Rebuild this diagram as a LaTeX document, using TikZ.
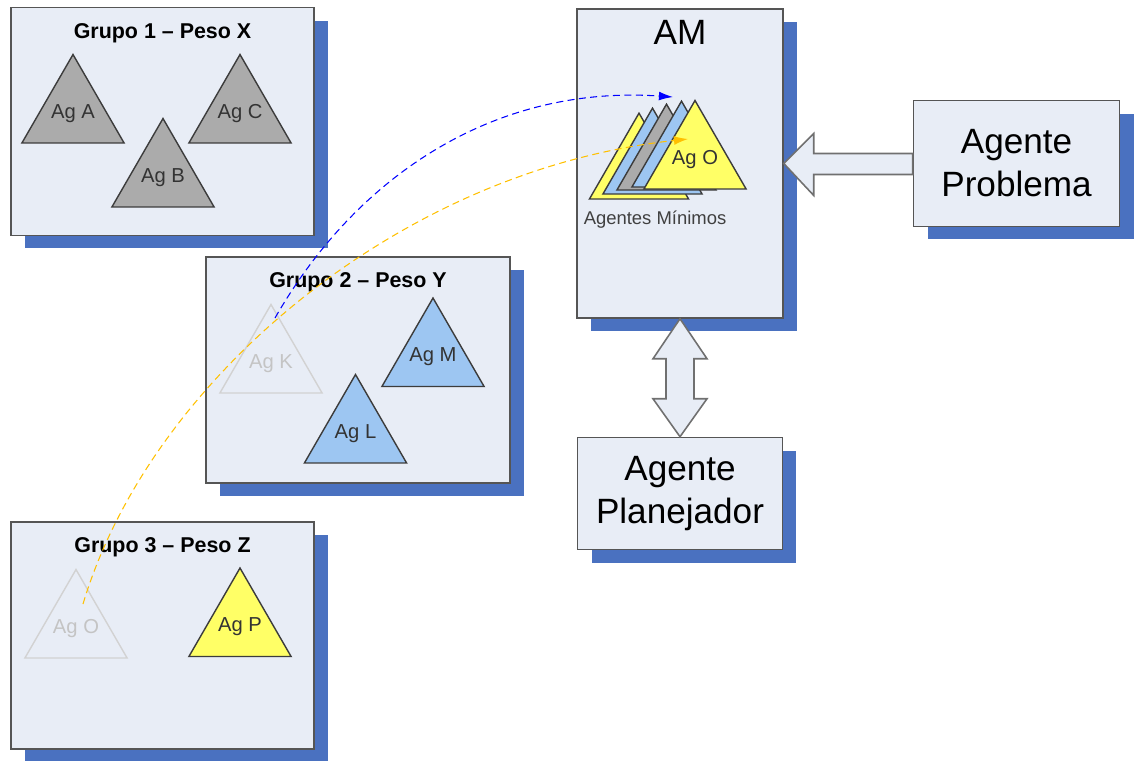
\documentclass[tikz,border=0pt]{standalone}
\usepackage{fontspec}
\setmainfont{Liberation Sans}
\usetikzlibrary{arrows.meta, positioning, shapes.geometric, shadows}
\definecolor{boxfill}{HTML}{E8EDF6}
\definecolor{boxline}{HTML}{555555}
\definecolor{shadowblue}{HTML}{4A71C0}
\definecolor{aggray}{HTML}{ABABAB}
\definecolor{agblue}{HTML}{9DC6F2}
\definecolor{agyellow}{HTML}{FFFF66}
\definecolor{agline}{HTML}{3C3C3C}
\definecolor{ghostline}{HTML}{D2D2D2}
\definecolor{ghosttext}{HTML}{C4C4C4}
\definecolor{linkyellow}{HTML}{FFC000}
\definecolor{arrowline}{HTML}{707070}

\begin{document}
\begin{tikzpicture}[x=0.02cm, y=-0.02cm, >={Latex[length=8pt, width=5pt]},
  box/.style={draw=boxline, line width=0.9pt, fill=boxfill, align=center, inner sep=0pt,
    drop shadow={shadow xshift=0.28cm, shadow yshift=-0.26cm, fill=shadowblue, opacity=1}},
  grp/.style={box, minimum width=6.06cm, minimum height=4.56cm},
  bigtxt/.style={font=\fontsize{20}{24.5}\selectfont},
  grptitle/.style={font=\fontsize{12.2}{14}\selectfont\bfseries},
  agtext/.style={font=\fontsize{11.5}{14}\selectfont, text=black!80},
  agshape/.style={regular polygon, regular polygon sides=3, line width=0.8pt,
    minimum size=2.36cm, inner sep=0pt},
  agent/.style={agshape, draw=agline, label={[agtext]center:#1}},
  ghost/.style={agshape, draw=ghostline, label={[agtext, text=ghosttext]center:#1}},
  blockarrow/.style={draw=arrowline, line width=0.9pt, fill=boxfill, line join=miter},
  link/.style={->, dash pattern=on 4pt off 2.5pt, line width=0.6pt}]
\useasboundingbox (0,0) rectangle (1138,760);

\node[grp] (g1) at (162.5,121.5) {};
\node[grptitle] (t1) at ([yshift=-0.53cm]g1.north) {Grupo 1 – Peso X};
\node[grp, minimum width=6.08cm, minimum height=4.52cm] (g2) at (358,370) {};
\node[grptitle] (t2) at ([yshift=-0.52cm]g2.north) {Grupo 2 – Peso Y};
\node[grp, minimum height=4.54cm] (g3) at (162.5,635.5) {};
\node[grptitle] (t3) at ([yshift=-0.52cm]g3.north) {Grupo 3 – Peso Z};

\node[box, minimum width=4.12cm, minimum height=6.18cm] (am) at (680,163.5) {};
\node[bigtxt] (amt) at ([yshift=-0.48cm]am.north) {AM};
\node[box, bigtxt, minimum width=4.12cm, minimum height=2.52cm, right=2.58cm of am] (prob) {Agente\\Problema};
\node[box, bigtxt, minimum width=4.1cm, minimum height=2.24cm, below=2.36cm of am] (plan) {Agente\\Planejador};

\node[agent={Ag A}, fill=aggray] (agA) at (73,113.5) {};
\node[agent={Ag B}, fill=aggray] (agB) at (163,177.5) {};
\node[agent={Ag C}, fill=aggray] (agC) at (240,113.5) {};
\node[ghost={Ag K}] (agK) at (271,363.5) {};
\node[agent={Ag M}, fill=agblue] (agM) at (433,357) {};
\node[agent={Ag L}, fill=agblue] (agL) at (355.5,433.5) {};
\node[ghost={Ag O}] (agOold) at (76,628.5) {};
\node[agent={Ag P}, fill=agyellow] (agP) at (240,627) {};

\foreach \cx/\cy/\col [count=\i] in {639/170.4/agyellow, 652.5/165.4/agblue, 666.5/161.4/aggray, 681.5/158.4/agblue}
  \node[agshape, draw=agline, fill=\col, minimum size=2.29cm] (stack\i) at (\cx,\cy) {};
\node[agent={Ag O}, fill=agyellow] (agO) at (695,159.5) {};
\node[font=\fontsize{10.5}{12}\selectfont, text=black!75] (minlabel) at (655,220) {Agentes Mínimos};

\draw[blockarrow] (am.east) -- ++(30,-30) -- ++(0,20) -- ([yshift=0.2cm]prob.west)
  -- ([yshift=-0.22cm]prob.west) -- ++(-99,0) -- ++(0,21) -- cycle;
\draw[blockarrow] (am.south) -- ++(-27,40) -- ++(13,0) -- ++(0,40) -- ++(-13,0) -- (plan.north)
  -- ++(27,-38) -- ++(-13,0) -- ++(0,-40) -- ++(13,0) -- cycle;

\coordinate (kfrom) at (275,318);
\coordinate (kto) at (673,97);
\coordinate (ofrom) at (83,604);
\coordinate (oto) at (688,139);
\draw[link, blue] (kfrom) .. controls (360,170) and (500,85) .. (kto);
\draw[link, linkyellow] (ofrom) .. controls (150,380) and (400,170) .. (oto);
\end{tikzpicture}
\end{document}
